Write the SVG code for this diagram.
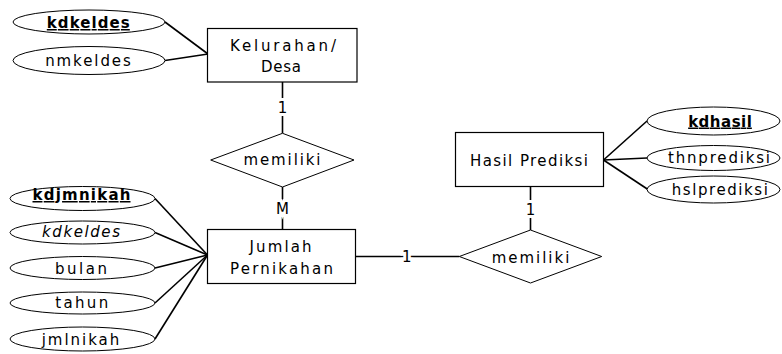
<svg xmlns="http://www.w3.org/2000/svg" width="782" height="354" viewBox="0 0 782 354">
<style>
text{font-family:"DejaVu Sans","Liberation Sans",Arial,sans-serif;font-size:15px;fill:#000;text-anchor:middle}
.ent{fill:#fff;stroke:#000;stroke-width:1.2}
.attr{fill:#fff;stroke:#000;stroke-width:1}
.rel{fill:#fff;stroke:#000;stroke-width:1}
.conn line{stroke:#000;stroke-width:1.6}
.pk{font-weight:bold;text-decoration:underline}
.fk{font-style:italic}
.card{stroke:#fff;stroke-width:6;paint-order:stroke}
</style>
<rect width="782" height="354" fill="#fff"/>
<g id="connectors" class="conn">
<line x1="165" y1="22" x2="208" y2="54"/>
<line x1="165" y1="60.5" x2="208" y2="54"/>
<line x1="282.5" y1="82" x2="282.5" y2="133.3"/>
<line x1="282.5" y1="187" x2="282.5" y2="229.5"/>
<line x1="155" y1="198.5" x2="207.5" y2="255"/>
<line x1="155" y1="232.5" x2="207.5" y2="255"/>
<line x1="155" y1="268" x2="207.5" y2="255"/>
<line x1="155" y1="303" x2="207.5" y2="255"/>
<line x1="155" y1="339" x2="207.5" y2="255"/>
<line x1="355.5" y1="256.5" x2="459.3" y2="256.5"/>
<line x1="530.5" y1="186.5" x2="530.5" y2="230"/>
<line x1="603.5" y1="160" x2="647" y2="121"/>
<line x1="603.5" y1="160" x2="647" y2="158"/>
<line x1="603.5" y1="160" x2="648" y2="189.5"/>
<text class="card" x="282.5" y="113">1</text>
<text class="card" x="282.5" y="214">M</text>
<text class="card" x="406.7" y="262">1</text>
<text class="card" x="530.5" y="215">1</text>
</g>
<g id="kelurahan">
<rect class="ent" x="207.5" y="28.5" width="149.5" height="53.5"/>
<text x="283" y="51" textLength="106" lengthAdjust="spacing">Kelurahan/</text>
<text x="281" y="71.5" textLength="40" lengthAdjust="spacing">Desa</text>
</g>
<g id="attr-kdkeldes">
<ellipse class="attr" cx="89" cy="22" rx="76" ry="12"/>
<text class="pk" x="88.3" y="28" textLength="83" lengthAdjust="spacing">kdkeldes</text>
</g>
<g id="attr-nmkeldes">
<ellipse class="attr" cx="89" cy="60.5" rx="76" ry="14"/>
<text x="88" y="66" textLength="85.7" lengthAdjust="spacing">nmkeldes</text>
</g>
<g id="rel-memiliki-1">
<polygon class="rel" points="282.5,133.3 354,160 282.5,187 210.7,160"/>
<text x="282" y="165" textLength="77" lengthAdjust="spacing">memiliki</text>
</g>
<g id="jumlah">
<rect class="ent" x="207.5" y="229.5" width="148" height="54"/>
<text x="280.5" y="252" textLength="62" lengthAdjust="spacing">Jumlah</text>
<text x="281.5" y="273.5" textLength="103" lengthAdjust="spacing">Pernikahan</text>
</g>
<g id="attr-kdjmnikah">
<ellipse class="attr" cx="82.5" cy="198.5" rx="72.5" ry="12"/>
<text class="pk" x="81.5" y="200" textLength="98" lengthAdjust="spacing">kdjmnikah</text>
</g>
<g id="attr-kdkeldes-fk">
<ellipse class="attr" cx="82.5" cy="232.5" rx="72.5" ry="11.5"/>
<text class="fk" x="81" y="237" textLength="78" lengthAdjust="spacing">kdkeldes</text>
</g>
<g id="attr-bulan">
<ellipse class="attr" cx="82.5" cy="268" rx="72.5" ry="11.5"/>
<text x="81" y="273.5" textLength="52" lengthAdjust="spacing">bulan</text>
</g>
<g id="attr-tahun">
<ellipse class="attr" cx="82.5" cy="303" rx="72.5" ry="11"/>
<text x="81.7" y="308.3" textLength="53" lengthAdjust="spacing">tahun</text>
</g>
<g id="attr-jmlnikah">
<ellipse class="attr" cx="82.5" cy="339" rx="72.5" ry="12"/>
<text x="80.5" y="344.5" textLength="77.6" lengthAdjust="spacing">jmlnikah</text>
</g>
<g id="rel-memiliki-2">
<polygon class="rel" points="530.5,230 601.7,256.5 530.5,283 459.3,256.5"/>
<text x="530.5" y="262.5" textLength="77.6" lengthAdjust="spacing">memiliki</text>
</g>
<g id="hasil">
<rect class="ent" x="455.5" y="132.5" width="148" height="54"/>
<text x="529" y="165.5" textLength="118" lengthAdjust="spacing">Hasil Prediksi</text>
</g>
<g id="attr-kdhasil">
<ellipse class="attr" cx="713.5" cy="121" rx="66.5" ry="14"/>
<text class="pk" x="720" y="126.5" textLength="63.7" lengthAdjust="spacing">kdhasil</text>
</g>
<g id="attr-thnprediksi">
<ellipse class="attr" cx="713.5" cy="158" rx="66.5" ry="12.5"/>
<text x="719" y="162.7" textLength="102" lengthAdjust="spacing">thnprediksi</text>
</g>
<g id="attr-hslprediksi">
<ellipse class="attr" cx="713.5" cy="189.5" rx="66.5" ry="13.5"/>
<text x="719.8" y="195" textLength="96" lengthAdjust="spacing">hslprediksi</text>
</g>
</svg>
